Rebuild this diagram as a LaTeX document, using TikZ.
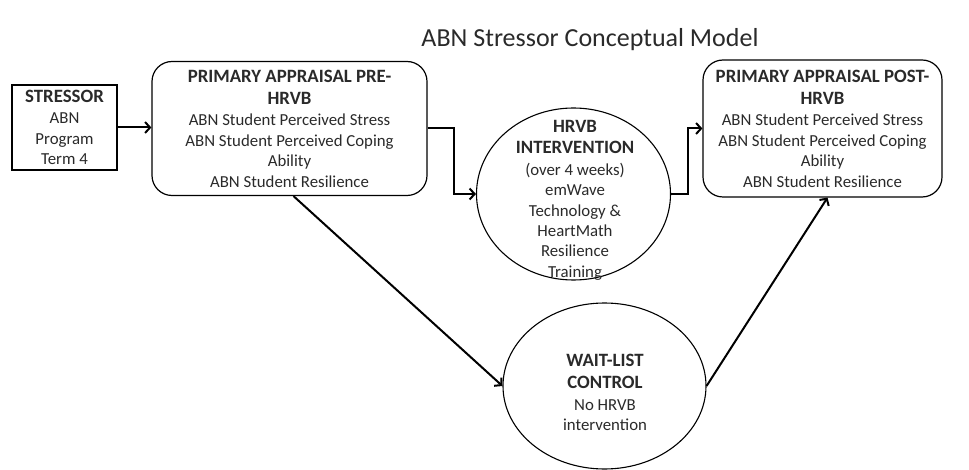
\documentclass[tikz,border=0pt]{standalone}
\usepackage{fontspec}
\setmainfont{Carlito}
\usetikzlibrary{shapes.geometric,arrows.meta}
\newcommand\bodyfnt{\fontsize{16.8}{20.4}\selectfont}
\newcommand\hdfnt{\fontsize{18.8}{20.4}\selectfont\bfseries}
\definecolor{txt}{HTML}{2A2A2A}
\begin{document}
\begin{tikzpicture}[x=1pt,y=-1pt,
  every node/.style={text=txt},
  sqbox/.style={draw=black, line width=1.2pt, align=center, inner sep=0pt, font=\bodyfnt},
  rbox/.style={sqbox, rounded corners=20pt},
  oval/.style={draw=black, line width=1.1pt, ellipse, inner sep=0pt},
  ovaltext/.style={align=center, inner sep=0pt, font=\bodyfnt},
  conn/.style={line width=2pt, -{Straight Barb[length=5pt,width=11pt]}}
]
\useasboundingbox[fill=white] (0,0) rectangle (969,470);
\node[font=\fontsize{26}{31}\selectfont] (title) at (590,40) {ABN Stressor Conceptual Model};
\node[sqbox, minimum width=105pt, minimum height=85pt] (stressor) at (64.5,127.5)
  {{\hdfnt STRESSOR}\\[1pt]ABN\\Program\\Term 4};
\node[rbox, minimum width=275pt, minimum height=134pt] (pre) at (289.5,128.5)
  {{\hdfnt PRIMARY APPRAISAL PRE-}\\[2pt]{\hdfnt HRVB}\\[1pt]ABN Student Perceived Stress\\ABN Student Perceived Coping\\Ability\\ABN Student Resilience};
\node[rbox, minimum width=239pt, minimum height=137pt] (post) at (822.5,128.5)
  {{\hdfnt PRIMARY APPRAISAL POST-}\\[2pt]{\hdfnt HRVB}\\[1pt]ABN Student Perceived Stress\\ABN Student Perceived Coping\\Ability\\ABN Student Resilience};
\node[oval, minimum width=194pt, minimum height=172pt] (hrvb) at (573.5,194) {};
\node[ovaltext] (hrvbtext) at (575,200)
  {{\hdfnt HRVB}\\[1.5pt]{\hdfnt INTERVENTION}\\[1pt](over 4 weeks)\\emWave\\Technology \&\\HeartMath\\Resilience\\Training};
\node[oval, minimum width=203pt, minimum height=166pt] (wait) at (604.5,386) {};
\node[ovaltext] (waittext) at (605,392.5)
  {{\hdfnt WAIT-LIST}\\[1.5pt]{\hdfnt CONTROL}\\[1pt]No HRVB\\intervention};
\draw[conn] (stressor.east) -- (stressor.east -| pre.west);
\draw[conn] (pre.east) -- ++(26,0) |- (hrvb.west);
\draw[conn] (hrvb.east) -- ++(17,0) |- (post.west);
\draw[conn] ([xshift=4pt]pre.south) -- (wait.west);
\draw[conn] (wait.east) -- ([xshift=5pt]post.south);
\end{tikzpicture}
\end{document}
